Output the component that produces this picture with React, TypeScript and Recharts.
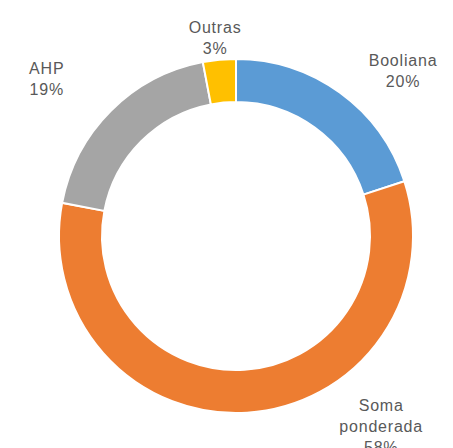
import React from "react";
import { PieChart, Pie, Cell } from "recharts";

const categories = ["Booliana", "Soma ponderada", "AHP", "Outras"];
const shares = [20, 58, 19, 3];
const labelLines = [["Booliana"], ["Soma", "ponderada"], ["AHP"], ["Outras"]];

const COLORS = ["#5B9BD5", "#ED7D31", "#A5A5A5", "#FFC000"];
// where each data label sits, in polar terms around the pie centre (deg, px)
const LABEL_POLAR = [
  { angle: 44.7, r: 235 },
  { angle: -52.6, r: 239 },
  { angle: 140.3, r: 246 },
  { angle: 96, r: 200 },
];
const LINE_H = 21;
const RAD = Math.PI / 180;

const data = categories.map((name, i) => ({ name, value: shares[i] }));

function renderLabel(props: any) {
  const { cx, cy, index, percent } = props;
  const pos = LABEL_POLAR[index];
  const x = cx + pos.r * Math.cos(pos.angle * RAD);
  const y = cy - pos.r * Math.sin(pos.angle * RAD);
  const lines = [...labelLines[index], `${Math.round(percent * 100)}%`];
  const firstBaseline = y - ((lines.length - 1) * LINE_H) / 2 + 6;
  return (
    <text
      x={x}
      y={firstBaseline}
      textAnchor="middle"
      fill="#595959"
      fontSize={16}
      letterSpacing={0.8}
      fontFamily="'Liberation Sans', Arial, sans-serif"
    >
      {lines.map((t, i) => (
        <tspan key={i} x={x} dy={i === 0 ? 0 : LINE_H}>
          {t}
        </tspan>
      ))}
    </text>
  );
}

export default function App() {
  return (
    <div style={{ position: "absolute", left: 0, top: 0, background: "#fff" }}>
      <PieChart width={453} height={448}>
        <Pie
          data={data}
          dataKey="value"
          nameKey="name"
          cx={231}
          cy={231}
          innerRadius={134}
          outerRadius={177}
          startAngle={90}
          endAngle={-270}
          stroke="#fff"
          strokeWidth={2}
          label={renderLabel}
          labelLine={false}
          isAnimationActive={false}
        >
          {data.map((d, i) => (
            <Cell key={d.name} fill={COLORS[i]} />
          ))}
        </Pie>
      </PieChart>
    </div>
  );
}
